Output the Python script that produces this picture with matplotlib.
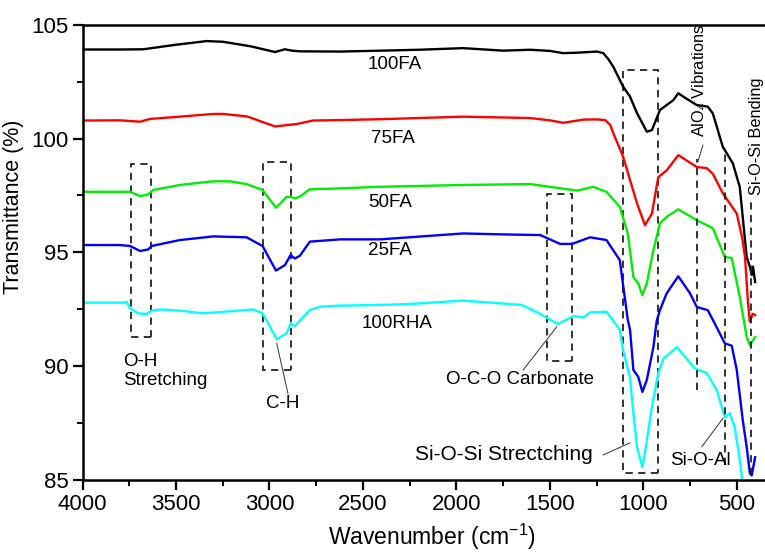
import matplotlib
matplotlib.use("Agg")
import matplotlib.pyplot as plt
from matplotlib.patches import Rectangle
from matplotlib.ticker import MultipleLocator

plt.rcParams['font.family'] = ['Liberation Sans', 'DejaVu Sans']
plt.rcParams['mathtext.fontset'] = 'custom'
plt.rcParams['mathtext.rm'] = 'Liberation Sans'

# ---------------- data ----------------
wn_100fa = [4000, 3800, 3675, 3500, 3336, 3248, 3100, 2970, 2917, 2880, 2836, 2622, 2400, 2200, 1964,
            1750, 1606, 1500, 1429, 1354, 1247, 1214, 1188, 1161, 1108, 1071, 1034, 981, 954, 911, 875,
            839, 813, 786, 714, 655, 628, 575, 521, 484, 447, 430, 420, 413, 402]
t_100fa = [103.91, 103.91, 103.92, 104.12, 104.28, 104.25, 104.05, 103.80, 103.92, 103.86, 103.83, 103.82,
           103.86, 103.90, 103.97, 103.86, 103.90, 103.85, 103.75, 103.77, 103.82, 103.75, 103.50, 103.16,
           102.28, 101.84, 101.12, 100.30, 100.37, 101.25, 101.47, 101.69, 101.99, 101.84, 101.47, 101.40,
           101.10, 99.64, 98.91, 97.87, 94.80, 94.37, 94.00, 94.37, 93.70]

wn_75fa = [4000, 3800, 3692, 3639, 3450, 3301, 3248, 3120, 2970, 2852, 2767, 2622, 2400, 1964, 1606,
           1500, 1429, 1322, 1247, 1204, 1177, 1161, 1108, 1071, 1034, 991, 954, 920, 875, 813, 714,
           661, 628, 575, 500, 470, 456, 440, 430, 415, 402]
t_75fa = [100.79, 100.80, 100.74, 100.86, 100.98, 101.08, 101.08, 100.97, 100.53, 100.64, 100.79, 100.81,
          100.85, 100.96, 100.90, 100.80, 100.69, 100.83, 100.84, 100.81, 100.60, 100.24, 99.20, 98.18,
          97.16, 96.19, 96.70, 98.30, 98.60, 99.27, 98.75, 98.70, 98.45, 97.60, 96.70, 95.60, 94.80,
          92.80, 91.95, 92.30, 92.25]

wn_50fa = [4000, 3800, 3746, 3692, 3648, 3621, 3479, 3301, 3212, 3122, 3037, 2965, 2908, 2887, 2864,
           2837, 2784, 2622, 2408, 1964, 1606, 1354, 1268, 1197, 1126, 1083, 1053, 1027, 1005, 981, 946,
           911, 875, 813, 714, 628, 564, 527, 484, 447, 430, 402]
t_50fa = [97.66, 97.66, 97.66, 97.47, 97.55, 97.74, 97.96, 98.12, 98.12, 98.00, 97.74, 96.96, 97.44, 97.44,
          97.37, 97.45, 97.77, 97.81, 97.88, 97.96, 98.00, 97.71, 97.88, 97.66, 97.00, 95.83, 93.91,
          93.64, 93.12, 93.64, 95.10, 96.27, 96.56, 96.89, 96.41, 96.06, 94.80, 94.75, 93.04, 91.28,
          90.93, 91.28]

wn_25fa = [4000, 3800, 3746, 3692, 3648, 3630, 3479, 3301, 3122, 3037, 3015, 2965, 2917, 2887, 2864,
           2837, 2784, 2622, 2408, 1964, 1700, 1551, 1445, 1381, 1285, 1197, 1126, 1083, 1071, 1053,
           1027, 1005, 981, 946, 928, 911, 875, 813, 750, 714, 655, 607, 564, 527, 500, 468, 447, 430,
           420, 402]
t_25fa = [95.32, 95.32, 95.28, 95.06, 95.13, 95.28, 95.54, 95.70, 95.66, 95.28, 94.95, 94.20, 94.44, 94.88,
          94.73, 94.85, 95.47, 95.57, 95.57, 95.83, 95.78, 95.76, 95.37, 95.37, 95.66, 95.54, 94.66,
          92.03, 91.60, 89.83, 89.53, 88.87, 89.40, 90.84, 92.00, 92.46, 93.20, 93.95, 93.20, 92.60,
          92.46, 91.70, 91.00, 90.90, 89.83, 87.63, 86.45, 85.30, 85.20, 86.00]

wn_100rha = [4000, 3800, 3782, 3764, 3746, 3701, 3657, 3630, 3586, 3479, 3354, 3212, 3087, 3037, 2997,
             2961, 2908, 2887, 2864, 2784, 2730, 2622, 2408, 2250, 1964, 1650, 1557, 1457, 1373, 1320,
             1285, 1197, 1161, 1126, 1108, 1071, 1053, 1034, 1005, 991, 954, 920, 891, 857, 820, 786,
             724, 661, 607, 564, 537, 511, 484, 468, 440, 420, 400]
t_100rha = [92.79, 92.79, 92.79, 92.83, 92.54, 92.32, 92.29, 92.44, 92.49, 92.44, 92.32, 92.41, 92.49,
            92.32, 91.73, 91.18, 91.44, 91.88, 91.76, 92.47, 92.61, 92.66, 92.69, 92.73, 92.88, 92.69,
            92.32, 91.85, 92.20, 92.14, 92.36, 92.39, 92.00, 91.59, 90.70, 89.50, 87.93, 86.45, 85.57,
            86.20, 88.20, 89.70, 90.35, 90.57, 90.84, 90.50, 89.90, 89.70, 88.95, 87.76, 87.93, 87.30,
            85.90, 84.80, 83.00, 82.50, 83.00]

series_names = ['100FA', '75FA', '50FA', '25FA', '100RHA']
series_colors = ['#000000', '#ff0000', '#00ee00', '#0000ff', '#00ffff']
series_wn = [wn_100fa, wn_75fa, wn_50fa, wn_25fa, wn_100rha]
series_t = [t_100fa, t_75fa, t_50fa, t_25fa, t_100rha]

# label positions (wavenumber, transmittance)
label_pos = [(2328, 103.23), (2339, 100.02), (2355, 97.2), (2355, 95.1), (2317, 91.89)]

# ---------------- figure ----------------
fig = plt.figure(figsize=(7.65, 5.53), dpi=100)
ax = fig.add_axes([82.5 / 765, 73 / 553, 1 - 82.5 / 765, (480 - 24.7) / 553])

for wn, t, c in zip(series_wn, series_t, series_colors):
    ax.plot(wn, t, color=c, lw=1.7, solid_joinstyle='round')

ax.set_xlim(4000, 349)
ax.set_ylim(85, 105)
ax.xaxis.set_major_locator(MultipleLocator(500))
ax.xaxis.set_minor_locator(MultipleLocator(250))
ax.yaxis.set_major_locator(MultipleLocator(5))
ax.yaxis.set_minor_locator(MultipleLocator(2.5))
ax.tick_params(which='major', direction='out', length=7, width=1.6, labelsize=16, pad=3)
ax.tick_params(which='minor', direction='out', length=4, width=1.4)
ax.tick_params(top=False, right=False, which='both')
for s in ['left', 'bottom', 'top']:
    ax.spines[s].set_linewidth(1.8)
ax.spines['right'].set_visible(False)

ax.set_xlabel(r'Wavenumber (cm$^{\mathregular{-1}}$)', fontsize=16.5)
ax.xaxis.set_label_coords(0.512, -0.092)
ax.set_ylabel('Transmittance (%)', fontsize=15.5)
ax.yaxis.set_label_coords(-0.086, 0.60)

fs = 13.5
for name, (x, y) in zip(series_names, label_pos):
    ax.text(x, y, name, fontsize=fs, ha='center', va='center')

# dashed boxes
dash = dict(fill=False, ls=(0, (4, 3)), lw=1.3, ec='#222222')
boxes = [(3742, 3634, 91.27, 98.87), (3036, 2886, 89.83, 98.98),
         (1517, 1380, 90.22, 97.56), (1110, 920, 85.32, 103.0)]
for x0, x1, y0, y1 in boxes:
    ax.add_patch(Rectangle((x1, y0), x0 - x1, y1 - y0, **dash))

# dashed vertical lines
for x, y0, y1 in [(714, 88.95, 99.1), (563, 85.65, 99.49), (423, 85.2, 97.3)]:
    ax.plot([x, x], [y0, y1], color='#222222', lw=1.3, ls=(0, (4, 3)))

# annotation texts
ax.text(3783, 89.78, 'O-H\nStretching', fontsize=fs, ha='left', va='center', linespacing=1.2)
ax.text(2928, 88.37, 'C-H', fontsize=fs, ha='center', va='center')
ax.text(1659, 89.4, 'O-C-O Carbonate', fontsize=fs, ha='center', va='center')
ax.text(1745, 86.1, 'Si-O-Si Strectching', fontsize=15, ha='center', va='center')
ax.text(697, 85.87, 'Si-O-Al', fontsize=fs, ha='center', va='center')
ax.text(697, 100.06, r'AlO$_{\mathregular{4}}$ Vibrations', fontsize=11.8, ha='center', va='bottom', rotation=90)
ax.text(392, 97.5, 'Si-O-Si Bending', fontsize=11.8, ha='center', va='bottom', rotation=90)

# leader lines
for (xa, ya), (xb, yb) in [((2961, 91.0), (2901, 88.8)), ((1463, 91.73), (1643, 89.83)),
                           ((1215, 86.1), (1071, 86.63)), ((687, 86.46), (573, 87.72)),
                           ((708, 98.98), (681, 99.71))]:
    ax.plot([xa, xb], [ya, yb], color='#333333', lw=0.7)

fig.savefig('out.png', dpi=100)
